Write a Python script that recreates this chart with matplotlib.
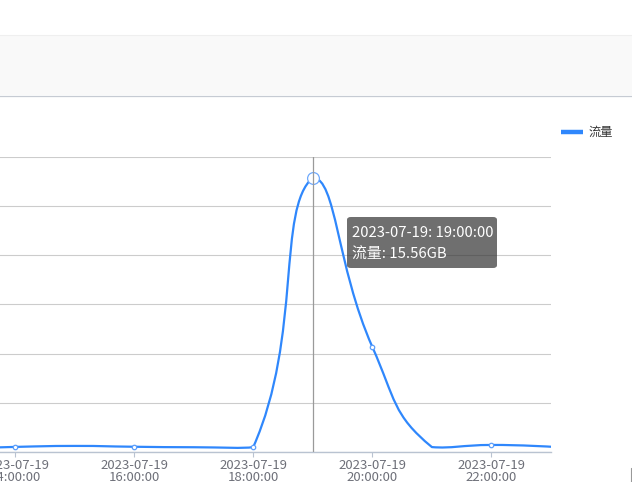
import numpy as np
import matplotlib
matplotlib.use("Agg")
import matplotlib.pyplot as plt
from matplotlib.path import Path
from matplotlib.patches import PathPatch, Rectangle, FancyBboxPatch
from matplotlib.lines import Line2D

plt.rcParams['font.family'] = ['Noto Sans CJK SC', 'DejaVu Sans']

# ---------------- data ----------------
times = ["2023-07-19 13:00:00", "2023-07-19 14:00:00", "2023-07-19 15:00:00",
         "2023-07-19 16:00:00", "2023-07-19 17:00:00", "2023-07-19 18:00:00",
         "2023-07-19 19:00:00", "2023-07-19 20:00:00", "2023-07-19 21:00:00",
         "2023-07-19 22:00:00", "2023-07-19 23:00:00"]
traffic_bytes = [0.20e9, 0.31e9, 0.37e9, 0.32e9, 0.29e9, 0.30e9,
                 16.707e9, 6.40e9, 0.30e9, 0.43e9, 0.32e9]
series_name = "流量"
label_idx = [1, 3, 5, 7, 9]
hover_idx = 6
tooltip_title = "2023-07-19: 19:00:00"
tooltip_value = "流量: 15.56GB"
y_max = 1.8e10
y_step = 3e9

W, H = 632, 482
LINE_C = "#2F87FC"
AXIS_C = "#B9C3D1"
LABEL_C = "#6E7079"

fig = plt.figure(figsize=(W / 100, H / 100), dpi=100)
fig.patch.set_facecolor("white")

def fx(px):
    return px / W

def fy(py):
    return 1 - py / H

# top band
fig.add_artist(Rectangle((0, fy(95)), 1, fy(35) - fy(95), transform=fig.transFigure,
                         facecolor="#F9F9F9", edgecolor="none", zorder=0))
fig.add_artist(Line2D([0, 1], [fy(35), fy(35)], transform=fig.transFigure,
                      color="#EFEFEF", lw=0.8))
fig.add_artist(Line2D([0, 1], [fy(95.5), fy(95.5)], transform=fig.transFigure,
                      color="#C6CBD3", lw=0.9))

# axes (left part is off the canvas)
x_left_px, x_right_px = -44.5, 551.0
y_top_px, y_bot_px = 156.5, 452.0
ax = fig.add_axes([fx(x_left_px), fy(y_bot_px), fx(x_right_px) - fx(x_left_px),
                   fy(y_top_px) - fy(y_bot_px)])
ax.set_facecolor("none")
x = np.arange(len(times))
ax.set_xlim(0, len(times) - 1)
ax.set_ylim(0, y_max)
ax.set_yticks(np.arange(0, y_max + 1, y_step))
ax.yaxis.grid(True, color="#CCCCCC", lw=0.8)
ax.set_axisbelow(True)
ax.tick_params(axis="y", left=False, labelleft=False)
for s in ["top", "right", "left"]:
    ax.spines[s].set_visible(False)
ax.spines["bottom"].set_color(AXIS_C)
ax.spines["bottom"].set_linewidth(1.0)
ax.spines["bottom"].set_zorder(1)
ax.set_xticks(label_idx)
ax.set_xticklabels([times[i].replace(" ", "\n") for i in label_idx],
                   color=LABEL_C, fontsize=9.5, linespacing=0.95)
ax.tick_params(axis="x", length=3.6, width=0.8, color=AXIS_C, pad=1.2)

# smooth curve (ECharts-style bezier smoothing, computed in display space,
# control points constrained to the bounding box of the points)
pts = ax.transData.transform(np.column_stack([x, traffic_bytes]))

def smooth_path(P, smooth=0.5):
    pmin = P.min(axis=0)
    pmax = P.max(axis=0)
    verts = [tuple(P[0])]
    codes = [Path.MOVETO]
    cp0 = P[0].copy()
    n = len(P)
    for i in range(1, n):
        p = P[i]
        prevP = P[i - 1]
        r = 0.5
        v = np.zeros(2)
        if i == n - 1:
            cp1 = p.copy()
        else:
            nextP = P[i + 1]
            v = nextP - prevP
            lp = np.hypot(*(p - prevP))
            ln = np.hypot(*(p - nextP))
            r = ln / (ln + lp)
            cp1 = p - v * smooth * (1 - r)
        cp0 = np.clip(cp0, pmin, pmax)
        cp1 = np.clip(cp1, pmin, pmax)
        verts += [tuple(cp0), tuple(cp1), tuple(p)]
        codes += [Path.CURVE4] * 3
        cp0 = p + v * smooth * r
    return np.array(verts), codes

v_disp, codes = smooth_path(pts)
v_data = ax.transData.inverted().transform(v_disp)
ax.add_patch(PathPatch(Path(v_data, codes), facecolor="none", edgecolor=LINE_C,
                       lw=1.6, zorder=3, capstyle="round", joinstyle="round"))

# small symbols at labelled points
ax.plot([x[i] for i in label_idx], [traffic_bytes[i] for i in label_idx], ls="none",
        marker="o", ms=3.2, mfc="white", mec="#5C9EFA", mew=0.9, zorder=4)

# hovered point + crosshair
ax.plot([x[hover_idx]], [traffic_bytes[hover_idx]], ls="none", marker="o", ms=8.5,
        mfc="white", mec="#6FA9FB", mew=0.9, zorder=5)
ax.axvline(x[hover_idx], color="#9A9A9A", lw=0.9, zorder=6)

# legend
fig.add_artist(Line2D([fx(561), fx(583)], [fy(132), fy(132)], transform=fig.transFigure,
                      color=LINE_C, lw=3.2, solid_capstyle="butt"))
fig.text(fx(589), fy(132), series_name, fontsize=8.8, color="#333333",
         va="center", ha="left")

# tooltip
fig.add_artist(FancyBboxPatch((fx(347), fy(268)), fx(497) - fx(347), fy(217) - fy(268),
                              boxstyle="round,pad=0,rounding_size=0.006",
                              transform=fig.transFigure, facecolor="#323232",
                              alpha=0.7, edgecolor="none", zorder=10))
fig.text(fx(352), fy(232.5), tooltip_title, fontsize=10.7, color="white",
         va="center", ha="left", zorder=11)
fig.text(fx(352), fy(254.5), tooltip_value, fontsize=10.7, color="white",
         va="center", ha="left", zorder=11)

# corner bracket at bottom right
fig.add_artist(Line2D([fx(632), fx(630.5), fx(630.5)], [fy(468), fy(468), fy(482)],
                      transform=fig.transFigure, color="#999999", lw=0.8))

fig.savefig("out.png", dpi=100)
